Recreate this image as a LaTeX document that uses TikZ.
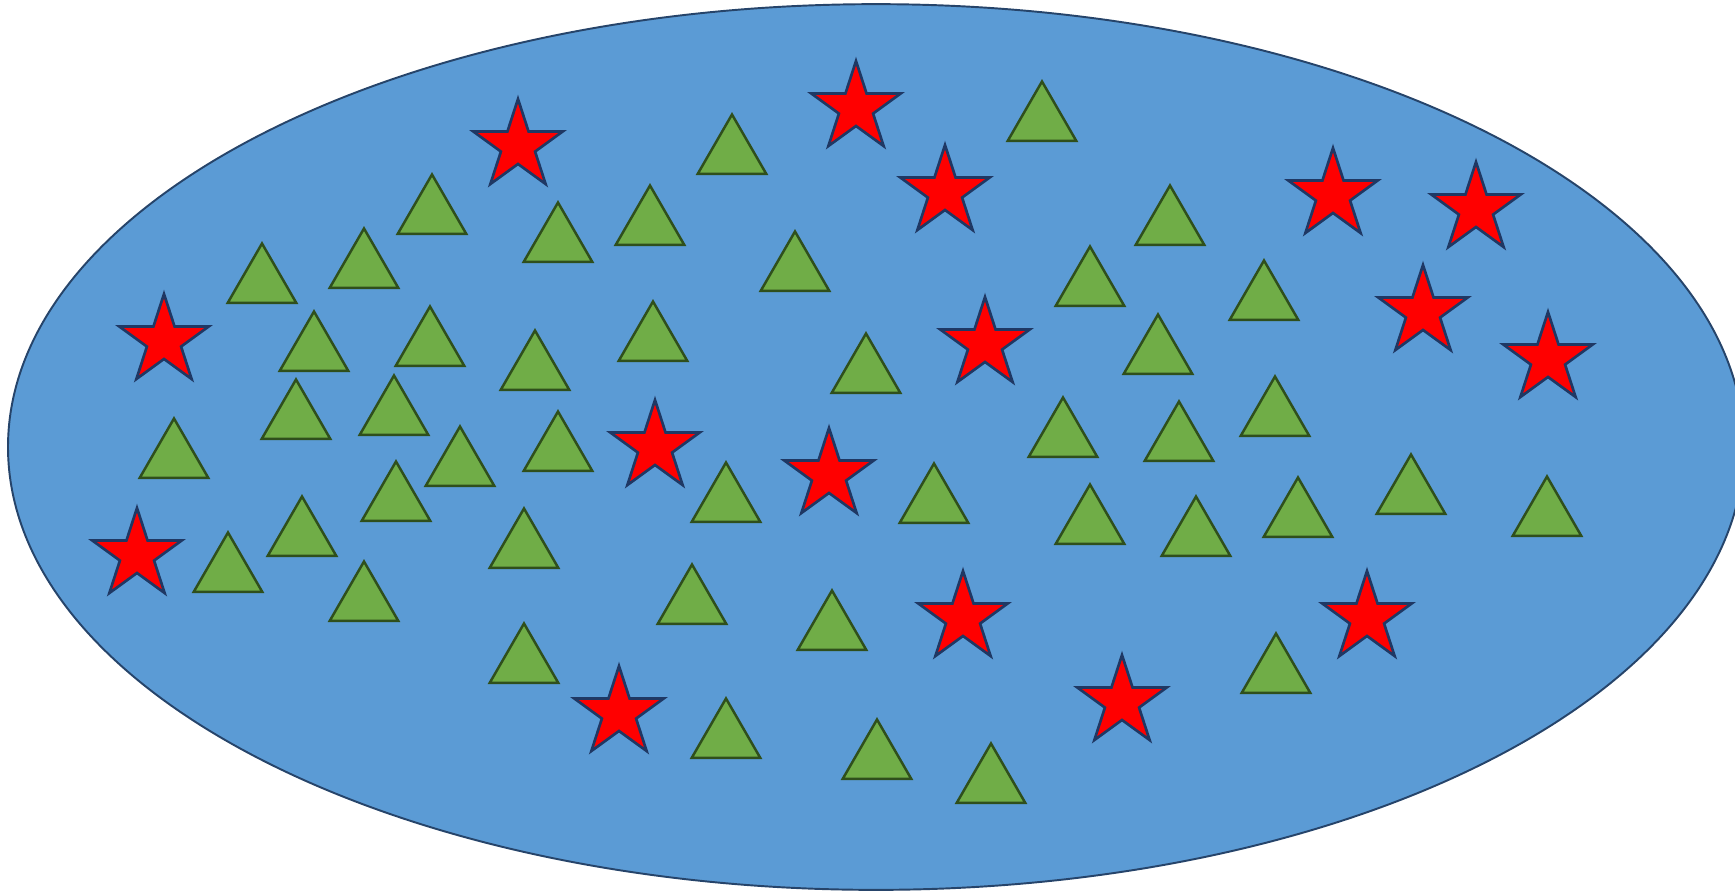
\documentclass[tikz,border=0pt]{standalone}
\usetikzlibrary{shapes.geometric}

\definecolor{setblue}{HTML}{5B9BD5}
\definecolor{setedge}{HTML}{26446A}
\definecolor{trigreen}{HTML}{70AD47}
\definecolor{triedge}{HTML}{2F4F1C}
\definecolor{staredge}{HTML}{1F3864}

\begin{document}
\begin{tikzpicture}[x=0.01cm,y=-0.01cm,
  greentri/.style={regular polygon, regular polygon sides=3, minimum size=0.79cm,
    inner sep=0pt, draw=triedge, fill=trigreen, line width=0.7pt},
  redstar/.style={star, star points=5, star point ratio=2.618, minimum size=0.94cm,
    inner sep=0pt, draw=staredge, fill=red, line width=0.75pt}]

\useasboundingbox (0,0) rectangle (1735,890);
\clip (0,0) rectangle (1735,890);

% =========================
% the set
% =========================
\draw[draw=setedge, fill=setblue, line width=0.55pt]
  (876,447) ellipse [x radius=8.675cm, y radius=4.426cm];

% =========================
% triangles, left part
% =========================
\node[greentri] (t1) at (432,214) {};
\node[greentri] (t2) at (558,242) {};
\node[greentri] (t3) at (364,268) {};
\node[greentri] (t4) at (262,283) {};
\node[greentri] (t5) at (314,351) {};
\node[greentri] (t6) at (430,346) {};
\node[greentri] (t7) at (535,370) {};
\node[greentri] (t8) at (296,419) {};
\node[greentri] (t9) at (394,415) {};
\node[greentri] (t10) at (174,458) {};
\node[greentri] (t11) at (460,466) {};
\node[greentri] (t12) at (558,451) {};
\node[greentri] (t13) at (396,501) {};
\node[greentri] (t14) at (302,536) {};
\node[greentri] (t15) at (228,572) {};
\node[greentri] (t16) at (364,601) {};

% =========================
% triangles, middle part
% =========================
\node[greentri] (t17) at (732,154) {};
\node[greentri] (t18) at (650,225) {};
\node[greentri] (t19) at (795,271) {};
\node[greentri] (t20) at (653,341) {};
\node[greentri] (t21) at (866,373) {};
\node[greentri] (t22) at (726,502) {};
\node[greentri] (t23) at (524,548) {};
\node[greentri] (t24) at (692,604) {};
\node[greentri] (t25) at (832,630) {};
\node[greentri] (t26) at (524,663) {};
\node[greentri] (t27) at (726,738) {};
\node[greentri] (t28) at (877,759) {};

% =========================
% triangles, right part
% =========================
\node[greentri] (t29) at (1042,121) {};
\node[greentri] (t30) at (1170,225) {};
\node[greentri] (t31) at (1090,286) {};
\node[greentri] (t32) at (1264,300) {};
\node[greentri] (t33) at (1158,354) {};
\node[greentri] (t34) at (1275,416) {};
\node[greentri] (t35) at (1063,437) {};
\node[greentri] (t36) at (1179,441) {};
\node[greentri] (t37) at (934,503) {};
\node[greentri] (t38) at (1090,524) {};
\node[greentri] (t39) at (1196,536) {};
\node[greentri] (t40) at (1298,517) {};
\node[greentri] (t41) at (1276,673) {};
\node[greentri] (t42) at (991,783) {};
\node[greentri] (t43) at (1411,494) {};
\node[greentri] (t44) at (1547,516) {};

% =========================
% stars
% =========================
\node[redstar] (s1) at (518,146) {};
\node[redstar] (s2) at (856,108) {};
\node[redstar] (s3) at (945,192) {};
\node[redstar] (s4) at (1333,195) {};
\node[redstar] (s5) at (1476,209) {};
\node[redstar] (s6) at (1423,312) {};
\node[redstar] (s7) at (1548,359) {};
\node[redstar] (s8) at (164,341) {};
\node[redstar] (s9) at (985,344) {};
\node[redstar] (s10) at (655,447) {};
\node[redstar] (s11) at (829,475) {};
\node[redstar] (s12) at (137,555) {};
\node[redstar] (s13) at (963,618) {};
\node[redstar] (s14) at (1367,618) {};
\node[redstar] (s15) at (1122,702) {};
\node[redstar] (s16) at (619,713) {};

\end{tikzpicture}
\end{document}
